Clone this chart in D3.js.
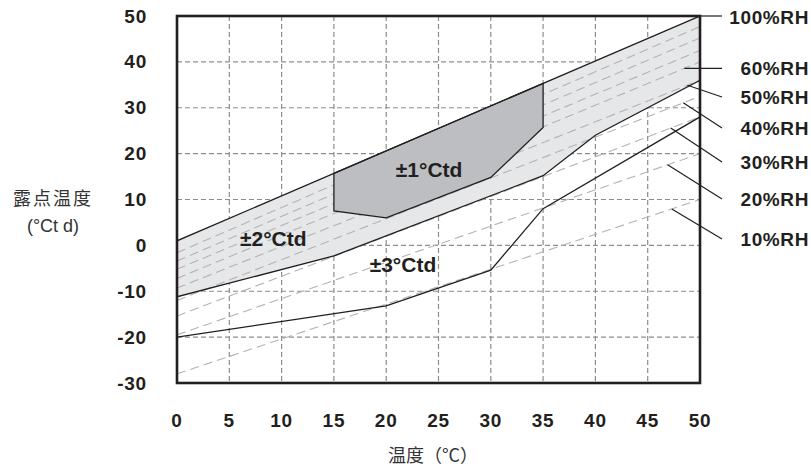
<!DOCTYPE html>
<html>
<head>
<meta charset="utf-8">
<script src="https://cdn.jsdelivr.net/npm/d3@7"></script>
<style>
  body { margin: 0; background: #fff; }
  text { fill: #231f20; }
</style>
</head>
<body>
<div id="graph"></div>
<script>
// ----------------------------------------------------------------------------
// data
// ----------------------------------------------------------------------------
const tempTicks = [0, 5, 10, 15, 20, 25, 30, 35, 40, 45, 50];
const dewTicks = [-30, -20, -10, 0, 10, 20, 30, 40, 50];

// 100%RH boundary (top of the light band)
const upperLine = [[0, 1], [50, 50]];
// lower edge of the ±2 band
const band2Lower = [[0, -11.2], [15, -2.3], [35, 15.2], [40, 24], [50, 36]];
// ±1 area
const band1 = [[15, 15.7], [35, 35.3], [35, 25.7], [30, 14.8], [20, 6], [15, 7.5]];
// ±3 lower line
const band3Lower = [[0, -20], [20, -13.2], [30, -5.4], [35, 8], [50, 28]];

// RH curves drawn as dashed straight lines: [rh, dew point at 0°C, at 50°C]
const rhLines = [
  [90, -1.6, 47.7],
  [80, -3.4, 45.2],
  [70, -5.2, 42.5],
  [60, -7.2, 40],
  [50, -9.3, 36],
  [40, -12, 32.5],
  [30, -15.4, 28],
  [20, -19.5, 20],
  [10, -28, 10]
];

// labelled curves and temperature where the leader line starts
const rhLabels = ['100%RH', '60%RH', '50%RH', '40%RH', '30%RH', '20%RH', '10%RH'];
const rhLabelCurve = [100, 60, 50, 40, 30, 20, 10];
const rhLeaderTemp = [50, 48.5, 48.8, 48.4, 47.2, 46.9, 47.3];

const zoneLabels = ['±1°Ctd', '±2°Ctd', '±3°Ctd'];

// ----------------------------------------------------------------------------
// chart
// ----------------------------------------------------------------------------
const W = 811, H = 470;
const svg = d3.select('#graph').append('svg')
  .attr('width', W).attr('height', H)
  .style('font-family', '"Liberation Sans", Arial, sans-serif');

const xScale = d3.scaleLinear().domain([0, 50]).range([177, 700]);
const yScale = d3.scaleLinear().domain([-30, 50]).range([383, 16]);

const x0 = xScale(0), x1 = xScale(50), yTop = yScale(50), yBot = yScale(-30);

svg.append('defs').append('clipPath').attr('id', 'plotClip')
  .append('rect')
  .attr('x', x0).attr('y', yTop)
  .attr('width', x1 - x0).attr('height', yBot - yTop);

const plot = svg.append('g').attr('clip-path', 'url(#plotClip)');

// grid
plot.append('g').selectAll('line.v')
  .data(tempTicks.slice(1, -1))
  .enter().append('line')
  .attr('x1', d => xScale(d)).attr('x2', d => xScale(d))
  .attr('y1', yTop).attr('y2', yBot)
  .attr('stroke', '#8d8d8d').attr('stroke-width', 1.2)
  .attr('stroke-dasharray', '5,3');

plot.append('g').selectAll('line.h')
  .data(dewTicks.slice(1, -1))
  .enter().append('line')
  .attr('x1', x0).attr('x2', x1)
  .attr('y1', d => yScale(d)).attr('y2', d => yScale(d))
  .attr('stroke', '#8d8d8d').attr('stroke-width', 1.2)
  .attr('stroke-dasharray', '5,3');

const valueline = d3.line()
  .x(d => xScale(d[0]))
  .y(d => yScale(d[1]));

// ±2 band (light)
const upperAt = t => upperLine[0][1] + (upperLine[1][1] - upperLine[0][1]) * t / 50;
const band2Poly = band2Lower.concat([[50, upperAt(50)], [0, upperAt(0)]]);
plot.append('path')
  .attr('d', valueline(band2Poly) + 'Z')
  .attr('fill', '#e6e7e8').attr('stroke', 'none');

// RH dashed lines
plot.append('g').selectAll('line')
  .data(rhLines)
  .enter().append('line')
  .attr('x1', xScale(0)).attr('y1', d => yScale(d[1]))
  .attr('x2', xScale(50)).attr('y2', d => yScale(d[2]))
  .attr('stroke', '#b3b3b3').attr('stroke-width', 1.1)
  .attr('stroke-dasharray', '9,5');

// ±1 area (dark)
plot.append('path')
  .attr('d', valueline(band1) + 'Z')
  .attr('fill', '#bdbec1').attr('stroke', '#231f20').attr('stroke-width', 1.3);

// solid boundary lines
[upperLine, band2Lower, band3Lower].forEach(l => {
  plot.append('path')
    .attr('d', valueline(l))
    .attr('fill', 'none')
    .attr('stroke', '#231f20').attr('stroke-width', 1.3);
});

// leader lines and RH labels
const rhAt = (rh, t) => {
  if (rh == 100) return upperAt(t);
  const r = rhLines.find(e => e[0] == rh);
  return r[1] + (r[2] - r[1]) * t / 50;
};
const labelY = [17, 68, 97, 128, 162, 199, 239];
rhLabels.forEach((lab, i) => {
  const sx = xScale(rhLeaderTemp[i]);
  const sy = yScale(rhAt(rhLabelCurve[i], rhLeaderTemp[i]));
  svg.append('line')
    .attr('x1', sx).attr('y1', sy)
    .attr('x2', 722).attr('y2', i < 2 ? sy : labelY[i])
    .attr('stroke', '#231f20').attr('stroke-width', 1.2);
  svg.append('text')
    .attr('x', 809).attr('y', labelY[i])
    .attr('text-anchor', 'end')
    .attr('dominant-baseline', 'central')
    .style('font-size', '19px').style('font-weight', 'bold')
    .style('letter-spacing', '0.6px')
    .text(lab);
});

// frame
svg.append('rect')
  .attr('x', x0).attr('y', yTop)
  .attr('width', x1 - x0).attr('height', yBot - yTop)
  .attr('fill', 'none').attr('stroke', '#231f20').attr('stroke-width', 2.6);

// zone labels
const zonePos = [[24.1, 16.5], [9.2, 1.6], [21.6, -4.2]];
zoneLabels.forEach((lab, i) => {
  svg.append('text')
    .attr('x', xScale(zonePos[i][0])).attr('y', yScale(zonePos[i][1]))
    .attr('text-anchor', 'middle')
    .attr('dominant-baseline', 'central')
    .style('font-size', '21px').style('font-weight', 'bold')
    .text(lab);
});

// tick labels
svg.append('g').selectAll('text')
  .data(tempTicks)
  .enter().append('text')
  .attr('x', d => xScale(d)).attr('y', 420)
  .attr('text-anchor', 'middle')
  .attr('dominant-baseline', 'central')
  .style('font-size', '19px').style('font-weight', 'bold')
  .style('letter-spacing', '0.8px')
  .text(d => d);

svg.append('g').selectAll('text')
  .data(dewTicks)
  .enter().append('text')
  .attr('x', 147).attr('y', d => yScale(d))
  .attr('text-anchor', 'end')
  .attr('dominant-baseline', 'central')
  .style('font-size', '19px').style('font-weight', 'bold')
  .style('letter-spacing', '0.8px')
  .text(d => d);

// axis titles
svg.append('text')
  .attr('x', 53).attr('y', 197)
  .attr('text-anchor', 'middle').attr('dominant-baseline', 'central')
  .style('font-family', '"Noto Sans CJK SC", sans-serif')
  .style('font-size', '18px').style('letter-spacing', '2px')
  .style('fill', '#333')
  .text('露点温度');
svg.append('text')
  .attr('x', 53).attr('y', 226)
  .attr('text-anchor', 'middle').attr('dominant-baseline', 'central')
  .style('font-size', '18px').style('fill', '#333')
  .text('(°Ct d)');
svg.append('text')
  .attr('x', 433).attr('y', 454)
  .attr('text-anchor', 'middle').attr('dominant-baseline', 'central')
  .style('font-family', '"Noto Sans CJK SC", sans-serif')
  .style('font-size', '18px').style('fill', '#333')
  .text('温度（°C）');
</script>
</body>
</html>
